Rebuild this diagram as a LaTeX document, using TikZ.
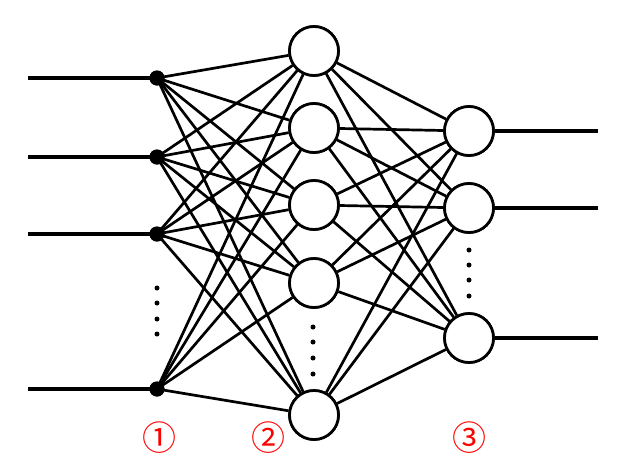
\documentclass[tikz,border=0pt]{standalone}
\usepackage{fontspec}
\newfontfamily\cjk{Noto Sans CJK JP}
\begin{document}
\begin{tikzpicture}[x=1pt,y=-1pt,
  neuron/.style={circle,draw,line width=2.7pt,fill=white,minimum size=49pt,inner sep=0pt},
  inp/.style={circle,fill=black,minimum size=15pt,inner sep=0pt},
  conn/.style={line width=2.7pt},
  wire/.style={line width=3.2pt},
  ell/.style={circle,fill=black,minimum size=5pt,inner sep=0pt},
  lab/.style={text=red,font=\cjk\fontsize{34}{34}\selectfont,inner sep=0pt}]
\useasboundingbox (0,0) rectangle (629,472);
\fill[white] (0,0) rectangle (629,472);
% input dots
\foreach \i/\y in {1/78,2/157,3/234,4/389}{
  \node[inp] (i\i) at (157,\y) {};
  \coordinate (a\i) at (28,\y);
}
% hidden
\foreach \j/\y in {1/51,2/128,3/205,4/283,5/415}{
  \node[neuron] (h\j) at (314,\y) {};
}
% output
\foreach \k/\y in {1/131,2/208,3/338}{
  \node[neuron] (o\k) at (469,\y) {};
  \coordinate (b\k) at (598,\y);
}
% connections
\foreach \i in {1,...,4}{
  \draw[wire] (a\i) -- (i\i.center);
  \foreach \j in {1,...,5}{\draw[conn] (i\i.center) -- (h\j);}
}
\foreach \j in {1,...,5}{
  \foreach \k in {1,...,3}{\draw[conn] (h\j) -- (o\k);}
}
\foreach \k in {1,...,3}{\draw[wire] (o\k) -- (b\k);}
% redraw nodes on top
\foreach \i/\y in {1/78,2/157,3/234,4/389}{\node[inp] at (157,\y) {};}
\foreach \j/\y in {1/51,2/128,3/205,4/283,5/415}{\node[neuron] at (314,\y) {};}
\foreach \k/\y in {1/131,2/208,3/338}{\node[neuron] at (469,\y) {};}
% ellipsis dots
\foreach \y in {288,303,319,334}{\node[ell] (d1\y) at (157,\y) {};}
\foreach \y in {327,342,358,374}{\node[ell] (d2\y) at (313,\y) {};}
\foreach \y in {250,265,280,296}{\node[ell] (d3\y) at (469,\y) {};}
% labels
\node[lab] (l1) at (159,438) {①};
\node[lab] (l2) at (268,438) {②};
\node[lab] (l3) at (469,438) {③};
\end{tikzpicture}
\end{document}
